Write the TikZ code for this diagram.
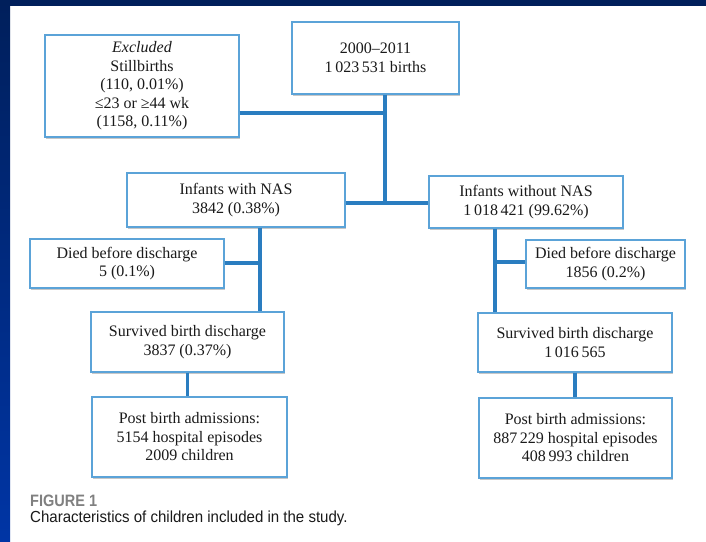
\documentclass[tikz,border=0pt]{standalone}
\usepackage{fontspec}
\setmainfont{Liberation Serif}
\newfontfamily\capfont{Liberation Sans}
\usetikzlibrary{shadows}
\definecolor{navy}{HTML}{001F5B}
\definecolor{navyb}{HTML}{0035A5}
\definecolor{boxline}{HTML}{5BA3D8}
\definecolor{conn}{HTML}{2A7DC0}
\definecolor{txt}{HTML}{1A1A1A}
\tikzset{
  fbox/.style={draw=boxline, line width=1.1pt, fill=white, rectangle, inner sep=0pt,
    align=center, text=txt, font=\fontsize{16}{18.5}\selectfont,
    general shadow={fill=black!22, shadow xshift=0.8pt, shadow yshift=-1.6pt}},
  conline/.style={draw=conn, line width=3.2pt},
}
\begin{document}
\begin{tikzpicture}[x=1pt,y=-1pt]
\useasboundingbox (0,0) rectangle (706,541);
\fill[white] (0,0) rectangle (706,541);
\shade[top color=navy, bottom color=navyb] (0,0) rectangle (10,541);
\fill[navy] (0,0) rectangle (706,6);

\node[fbox, minimum width=194pt, minimum height=102pt] (excl) at (142,86)
  {\textit{Excluded}\\Stillbirths\\(110, 0.01\%)\\\char"2264 23 or \char"2265 44 wk\\(1158, 0.11\%)};
\node[fbox, minimum width=167pt, minimum height=72pt] (top) at (375.5,58)
  {2000--2011\\1\,023\,531 births};
\node[fbox, minimum width=218pt, minimum height=54pt] (nas) at (236,200)
  {Infants with NAS\\3842 (0.38\%)};
\node[fbox, minimum width=194pt, minimum height=52pt] (nonas) at (526,202)
  {Infants without NAS\\1\,018\,421 (99.62\%)};
\node[fbox, minimum width=194pt, minimum height=49pt] (diedL) at (127,263.5)
  {Died before discharge\\5 (0.1\%)};
\node[fbox, minimum width=159pt, minimum height=48pt] (diedR) at (605.5,264)
  {Died before discharge\\1856 (0.2\%)};
\node[fbox, minimum width=193pt, minimum height=60pt] (survL) at (187.5,342)
  {Survived birth discharge\\3837 (0.37\%)};
\node[fbox, minimum width=194pt, minimum height=59pt] (survR) at (575,342.5)
  {Survived birth discharge\\1\,016\,565};
\node[fbox, minimum width=195pt, minimum height=80pt] (postL) at (189.5,437)
  {Post birth admissions:\\5154 hospital episodes\\2009 children};
\node[fbox, minimum width=193pt, minimum height=80pt] (postR) at (575.5,438)
  {Post birth admissions:\\887\,229 hospital episodes\\408\,993 children};

\coordinate (j1) at (385,113);
\coordinate (j2) at (385,203);
\coordinate (jl) at (260,263);
\coordinate (jr) at (495,262);

\draw[conline] (top.south -| j1) -- (j2);
\draw[conline] (excl.east |- j1) -- (j1);
\draw[conline] (nas.east |- j2) -- (nonas.west |- j2);
\draw[conline] (nas.south -| jl) -- (survL.north -| jl);
\draw[conline] (diedL.east |- jl) -- (jl);
\draw[conline] (nonas.south -| jr) -- (survR.north -| jr);
\draw[conline] (jr) -- (diedR.west |- jr);
\draw[conline] (survL.south) -- (survL.south |- postL.north);
\draw[conline] (survR.south) -- (survR.south |- postR.north);

\node[anchor=base west, inner sep=0pt, text=black!50, font=\capfont\bfseries\fontsize{16.5}{18}\selectfont] (fig) at (30,506)
  {\scalebox{0.88}[1]{FIGURE 1}};
\node[anchor=base west, inner sep=0pt, text=txt, font=\capfont\fontsize{16}{18}\selectfont] (cap) at (30,522)
  {\scalebox{0.94}[1]{Characteristics of children included in the study.}};
\end{tikzpicture}
\end{document}
